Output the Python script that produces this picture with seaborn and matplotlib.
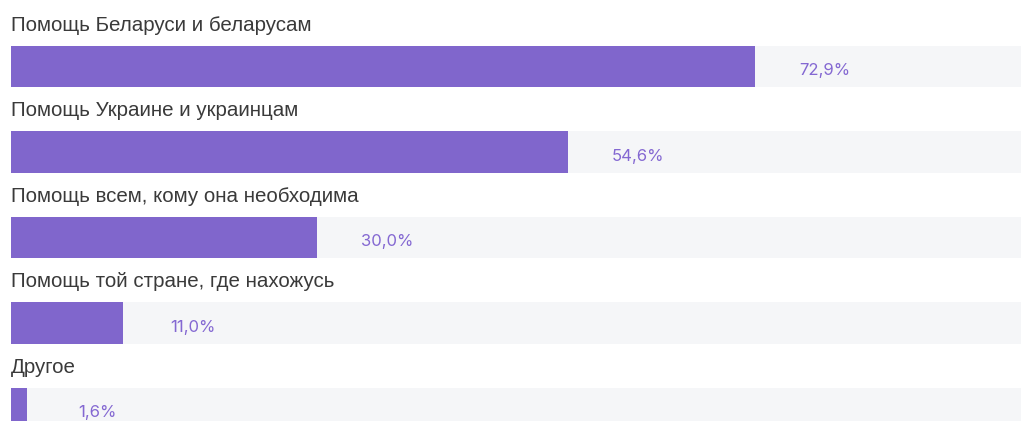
import matplotlib
matplotlib.use("Agg")
import matplotlib.pyplot as plt
import seaborn as sns

# ─────────────────────────────────────────────
# Données
# ─────────────────────────────────────────────
categories = [
    "Помощь Беларуси и беларусам",
    "Помощь Украине и украинцам",
    "Помощь всем, кому она необходима",
    "Помощь той стране, где нахожусь",
    "Другое",
]
values = [72.9, 54.6, 30.0, 11.0, 1.6]
value_labels = ["72,9%", "54,6%", "30,0%", "11,0%", "1,6%"]
full_scale = [100] * len(categories)

bar_color = "#8066CC"
track_color = "#F5F6F8"
value_color = "#8468D2"
label_color = "#3A3A3A"

sns.set_theme(style="white")
plt.rcParams["font.family"] = ["Liberation Sans", "DejaVu Sans"]

fig = plt.figure(figsize=(10.21, 4.21), dpi=100)
ax = fig.add_axes([11 / 1021, 0, 1010 / 1021, 1])

sns.barplot(x=full_scale, y=categories, color=track_color, width=0.48,
            orient="h", ax=ax, saturation=1, linewidth=0)
sns.barplot(x=values, y=categories, color=bar_color, width=0.48,
            orient="h", ax=ax, saturation=1, linewidth=0)

ax.set_xlim(0, 99)
ax.set_ylim(4.146, -0.778)
ax.set_axis_off()

for i, (cat, v, lab) in enumerate(zip(categories, values, value_labels)):
    ax.text(0, i - 0.48, cat, ha="left", va="center", fontsize=14.8,
            color=label_color)
    ax.annotate(lab, xy=(v, i), xytext=(70, -4), textcoords="offset pixels",
                ha="center", va="center", fontsize=12, color=value_color,
                family=["Inter", "DejaVu Sans"])

fig.savefig("out.png", dpi=100)
